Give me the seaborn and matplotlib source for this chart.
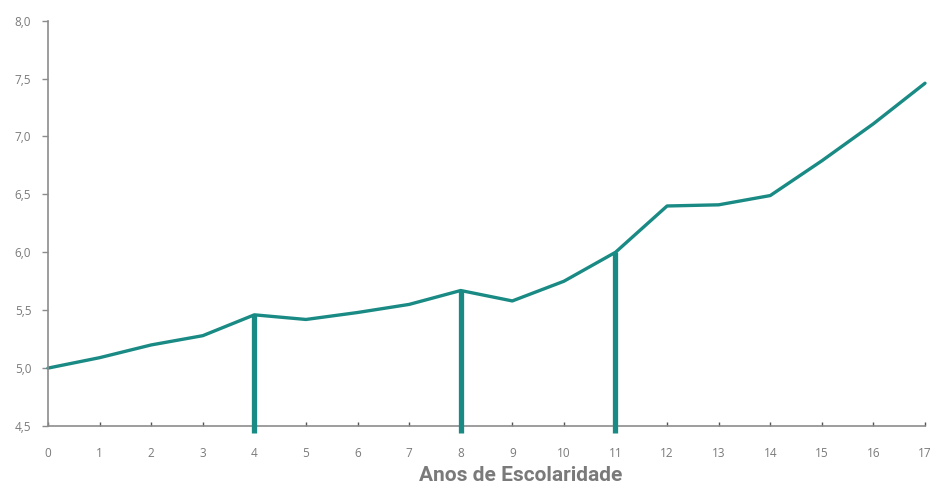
import numpy as np
import pandas as pd
import matplotlib
matplotlib.use("Agg")
import matplotlib.pyplot as plt
import seaborn as sns

# Years of schooling and the corresponding values
anos = list(range(0, 18))
valores = [5.00, 5.09, 5.20, 5.28, 5.46, 5.42, 5.48, 5.55, 5.67, 5.58,
           5.75, 6.00, 6.40, 6.41, 6.49, 6.79, 7.11, 7.46]
# Schooling milestones highlighted with vertical bars
marcos = [4, 8, 11]

y_ticks = [4.5, 5.0, 5.5, 6.0, 6.5, 7.0, 7.5, 8.0]
x_label = "Anos de Escolaridade"

teal = "#1a8a84"
grey_axis = "#8c8c8c"
grey_text = "#7a7a7a"

df = pd.DataFrame({"anos": anos, "valor": valores})

sns.set_theme(style="white")
plt.rcParams["font.family"] = ["Open Sans", "DejaVu Sans"]

fig = plt.figure(figsize=(9.34, 4.88), dpi=100)
ax = fig.add_axes([48 / 934, 1 - 426 / 488, (925 - 48) / 934, (426 - 20.7) / 488])

sns.lineplot(data=df, x="anos", y="valor", ax=ax, color=teal, linewidth=2.4,
             clip_on=False)

# Vertical bars from below the axis up to the curve at each milestone
ymin, ymax = y_ticks[0], y_ticks[-1]
marco_vals = [valores[anos.index(m)] for m in marcos]
ax.vlines(marcos, ymin - 0.06, marco_vals, color=teal, linewidth=3.8,
          clip_on=False, zorder=3)

ax.set_xlim(anos[0], anos[-1])
ax.set_ylim(ymin, ymax)
ax.set_xticks(anos)
ax.set_xticklabels([str(a) for a in anos])
ax.set_yticks(y_ticks)
ax.set_yticklabels([f"{v:.1f}".replace(".", ",") for v in y_ticks])

for side in ("top", "right"):
    ax.spines[side].set_visible(False)
for side in ("left", "bottom"):
    ax.spines[side].set_color(grey_axis)
    ax.spines[side].set_linewidth(1.2)

ax.tick_params(axis="y", which="major", direction="out", length=4, width=1,
               color=grey_axis, labelsize=8.5, labelcolor=grey_text, pad=8, left=True)
ax.tick_params(axis="x", which="major", direction="in", length=3, width=1,
               color="#555555", labelsize=8.5, labelcolor=grey_text, pad=15, bottom=True)

ax.set_ylabel("")
ax.set_xlabel(x_label, fontsize=15, color=grey_text, fontfamily=["Roboto", "DejaVu Sans"],
              fontweight="semibold", labelpad=6)
ax.xaxis.set_label_coords(0.539, -0.098)

fig.savefig("out.png", dpi=100, facecolor="white")
